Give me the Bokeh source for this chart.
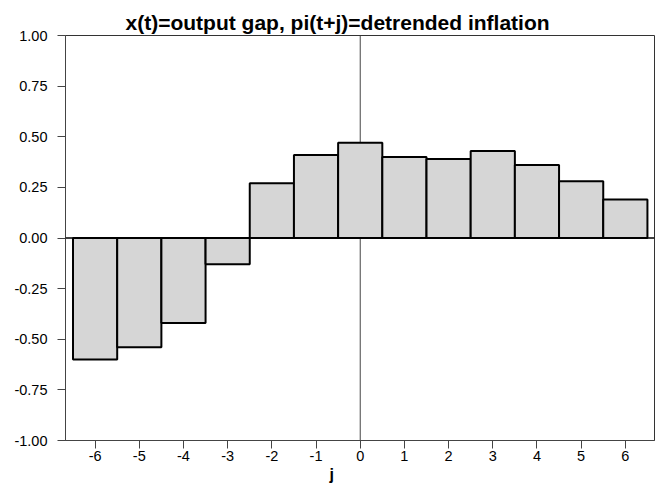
from bokeh.plotting import figure
from bokeh.models import FixedTicker, PrintfTickFormatter, Span, Range1d, Title
from bokeh.embed import file_html
from bokeh.resources import INLINE

# Cross-correlation of output gap x(t) with detrended inflation pi(t+j)
leads = [-6, -5, -4, -3, -2, -1, 0, 1, 2, 3, 4, 5, 6]
corr = [-0.60, -0.54, -0.42, -0.13, 0.27, 0.41, 0.47, 0.40, 0.39, 0.43, 0.36, 0.28, 0.19]
y_ticks = [-1.0, -0.75, -0.5, -0.25, 0.0, 0.25, 0.5, 0.75, 1.0]
title_text = "x(t)=output gap, pi(t+j)=detrended inflation"
x_label = "j"

FONT = "Liberation Sans"

p = figure(
    width=665, height=495,
    x_range=Range1d(-6.67, 6.66), y_range=Range1d(-1.0, 1.0),
    output_backend="svg", toolbar_location=None,
    min_border_left=65, min_border_right=11,
    min_border_top=35, min_border_bottom=55,
)
p.grid.visible = False
p.background_fill_color = "white"
p.border_fill_color = "white"
p.outline_line_color = "#333333"
p.outline_line_width = 1

# zero reference lines
p.add_layout(Span(location=0, dimension="height", line_color="#444444",
                  line_width=1, level="underlay"))
p.vbar(x=leads, top=corr, bottom=0, width=1.0,
       fill_color="#d6d6d6", line_color="black", line_width=2)
p.add_layout(Span(location=0, dimension="width", line_color="black", line_width=1.5))

for ax in (p.xaxis[0], p.yaxis[0]):
    ax.axis_line_color = "#444444"
    ax.major_tick_line_color = "#444444"
    ax.major_tick_in = 0
    ax.major_tick_out = 8
    ax.minor_tick_line_color = None
    ax.major_label_text_font = FONT
    ax.major_label_text_font_size = "14.5px"
    ax.major_label_text_color = "black"

p.xaxis.ticker = FixedTicker(ticks=leads)
p.xaxis.formatter = PrintfTickFormatter(format="%d")
p.xaxis.major_label_standoff = 2
p.yaxis.ticker = FixedTicker(ticks=y_ticks)
p.yaxis.formatter = PrintfTickFormatter(format="%.2f")
p.yaxis.major_label_standoff = 10

p.title = Title(text=title_text, align="left", offset=60,
                text_font=FONT, text_font_size="21px", text_font_style="bold",
                text_color="black", standoff=3)
p.add_layout(Title(text=x_label, align="left", offset=264,
                   text_font=FONT, text_font_size="16px", text_font_style="bold",
                   text_color="black", standoff=0), "below")

open("out.html", "w").write(file_html(p, INLINE))
